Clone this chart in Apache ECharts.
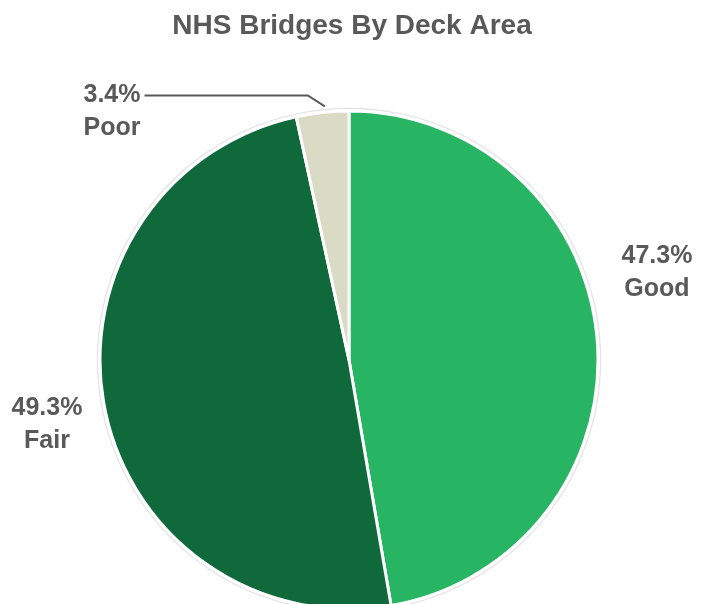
<!DOCTYPE html>
<html>
<head>
<meta charset="utf-8">
<script src="https://cdn.jsdelivr.net/npm/echarts@6/dist/echarts.min.js"></script>
<style>
  html, body { margin: 0; padding: 0; background: #ffffff; }
  #chart { width: 704px; height: 604px; }
</style>
</head>
<body>
<div id="chart"></div>
<script>
// Share of NHS bridge deck area by condition rating
const categories = ['Good', 'Fair', 'Poor'];
const shares = [47.3, 49.3, 3.4];
const colors = ['#27b463', '#10693a', '#dadbc5'];

// Where each label block sits (centre of the text box)
const labelSpots = {
  Good: [657, 273],
  Fair: [47, 425],
  Poor: [112, 112]
};

const FONT = '"Liberation Sans Narrow", "Arial Narrow", "Liberation Sans", Arial, sans-serif';
const TEXT = '#595959';
const CENTER = [349, 360];
const RADIUS = 249;

const chart = echarts.init(document.getElementById('chart'), null, { renderer: 'canvas' });

chart.setOption({
  animation: false,
  title: {
    text: 'NHS Bridges By Deck Area',
    left: 'center',
    top: 7,
    textStyle: { fontFamily: FONT, fontWeight: 'bold', fontSize: 28, color: TEXT }
  },
  series: [
    {
      // faint halo ring around the pie
      type: 'pie',
      silent: true,
      center: CENTER,
      radius: [RADIUS + 2, RADIUS + 3.2],
      label: { show: false },
      labelLine: { show: false },
      itemStyle: { color: '#e2e2e2' },
      data: [{ value: 1, name: 'halo' }]
    },
    {
      type: 'pie',
      center: CENTER,
      radius: RADIUS,
      startAngle: 90,
      clockwise: true,
      itemStyle: { borderColor: '#ffffff', borderWidth: 3 },
      label: {
        show: true,
        position: 'outside',
        overflow: 'none',
        formatter: p => p.value.toFixed(1) + '%\n' + p.name,
        fontFamily: FONT,
        fontWeight: 'bold',
        fontSize: 25,
        lineHeight: 33,
        color: TEXT,
        align: 'center'
      },
      labelLine: { show: false },
      labelLayout: function (params) {
        const name = categories[params.dataIndex];
        const spot = labelSpots[name];
        const out = { x: spot[0], y: spot[1], align: 'center', verticalAlign: 'middle' };
        const pts = params.labelLinePoints;
        if (name === 'Poor' && pts && pts.length) {
          // elbow leader: short diagonal off the rim, then level to the text
          const edge = pts[0];
          const dx = edge[0] - CENTER[0], dy = edge[1] - CENTER[1];
          const len = Math.sqrt(dx * dx + dy * dy);
          const a = [edge[0] + dx / len * 6 + 3, edge[1] + dy / len * 6];
          const b = [a[0] - 17, a[1] - 11];
          const c = [spot[0] + params.labelRect.width / 2 + 4, b[1]];
          out.labelLinePoints = [a, b, c];
        }
        return out;
      },
      data: categories.map((c, i) => ({
        name: c,
        value: shares[i],
        itemStyle: { color: colors[i] },
        labelLine: c === 'Poor'
          ? { show: true, lineStyle: { color: TEXT, width: 2 } }
          : { show: false }
      }))
    }
  ]
});
</script>
</body>
</html>
